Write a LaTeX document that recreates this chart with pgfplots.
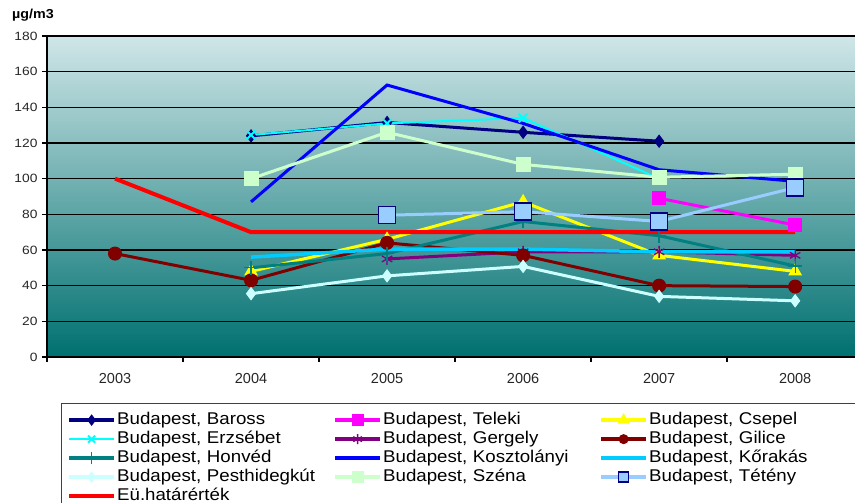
\documentclass[border=0pt]{standalone}
\usepackage{fontspec}
\setmainfont{Liberation Sans}
\newfontfamily\legfont[FakeStretch=1.1]{Liberation Sans}
\newfontfamily\yfont[FakeStretch=1.15]{Liberation Sans}
\usepackage{pgfplots}
\pgfplotsset{compat=1.18}
\definecolor{cBaross}{RGB}{0,0,128}
\definecolor{cTeleki}{RGB}{255,0,255}
\definecolor{cCsepel}{RGB}{255,255,0}
\definecolor{cErzs}{RGB}{0,255,255}
\definecolor{cGergely}{RGB}{128,0,128}
\definecolor{cGilice}{RGB}{128,0,0}
\definecolor{cHonved}{RGB}{0,128,128}
\definecolor{cKoszt}{RGB}{0,0,255}
\definecolor{cKorakas}{RGB}{0,204,255}
\definecolor{cPest}{RGB}{204,255,255}
\definecolor{cSzena}{RGB}{204,255,204}
\definecolor{cTeteny}{RGB}{153,204,255}
\definecolor{cEu}{RGB}{255,0,0}
\definecolor{bgTop}{RGB}{208,230,232}
\definecolor{bgMid}{RGB}{128,180,181}
\definecolor{bgBot}{RGB}{0,112,112}
\begin{document}
\begin{tikzpicture}
\useasboundingbox (0,0) rectangle (855bp,503bp);
\clip (0,0) rectangle (855bp,503bp);
\begin{axis}[
  at={(47bp,146bp)}, anchor=south west,
  scale only axis, width=808bp, height=321bp,
  xmin=-0.5, xmax=5.44, ymin=0, ymax=180,
  axis x line*=bottom, axis y line*=left,
  x axis line style={-, line width=1.3bp, black},
  y axis line style={-, line width=1.3bp, black},
  xtick={0,...,5}, xticklabels={2003,2004,2005,2006,2007,2008},
  minor xtick={-0.5,0.5,1.5,2.5,3.5,4.5},
  major x tick style={draw=none},
  minor x tick style={black, line width=1.3bp},
  ytick={0,20,...,180},
  major y tick style={black, line width=1.3bp},
  tick align=outside,
  major tick length=5bp, minor tick length=5bp,
  ymajorgrids, major y grid style={black, line width=1.3bp},
  /pgf/number format/assume math mode=true,
  yticklabel style={font=\yfont\fontsize{12bp}{12bp}\selectfont, color=black!85, xshift=-1bp},
  xticklabel style={font=\fontsize{14.5bp}{14.5bp}\selectfont, color=black!85, yshift=-8bp},
  axis background/.style={top color=bgTop, middle color=bgMid, bottom color=bgBot},
  ylabel={\textbf{µg/m3}},
  every axis y label/.style={at={(rel axis cs:0,1)}, anchor=center, xshift=-14bp, yshift=21bp,
     font=\legfont\fontsize{13bp}{13bp}\selectfont},
  legend columns=3,
  legend cell align=left,
  legend image code/.code={
    \draw[mark repeat=2,mark phase=2,#1] plot coordinates {(0bp,0bp) (22.5bp,0bp) (45bp,0bp)};
  },
  every legend image post/.style={line width=4bp},
  legend style={at={(axis description cs:0.0173,-0.1433)}, anchor=north west,
     draw=black!75, line width=1.3bp, inner xsep=5.5bp, inner ysep=7bp,
     row sep=0bp, column sep=0bp,
     font=\legfont\fontsize{17bp}{19bp}\selectfont,
     nodes={inner xsep=1bp, inner ysep=1bp, text width=215bp, text height=12.5bp, text depth=4.5bp}},
]
\addplot[cBaross, line width=3bp, mark=diamond*, mark size=6bp, mark options={solid, fill=cBaross, line width=1bp},
  legend image post style={mark size=5bp}]
  coordinates {(1,124) (2,131.5) (3,126) (4,121)};
\addlegendentry{Budapest, Baross}
\addplot[cTeleki, line width=3bp, mark=square*, mark size=6.5bp, mark options={solid, fill=cTeleki, line width=1bp},
  legend image post style={mark size=5.5bp}]
  coordinates {(4,89) (5,74)};
\addlegendentry{Budapest, Teleki}
\addplot[cCsepel, line width=3bp, mark=triangle*, mark size=7bp, mark options={solid, fill=cCsepel, line width=1bp},
  legend image post style={mark size=6bp}]
  coordinates {(1,48) (2,66) (3,87) (4,57) (5,48)};
\addlegendentry{Budapest, Csepel}
\addplot[cErzs, line width=2bp, mark=x, mark size=6bp, mark options={solid, line width=2bp},
  legend image post style={line width=2bp, mark size=5bp}]
  coordinates {(1,124.5) (2,131) (3,134) (4,100)};
\addlegendentry{Budapest, Erzsébet}
\addplot[cGergely, line width=3bp, mark=asterisk, mark size=6bp, mark options={solid, line width=1.3bp},
  legend image post style={mark size=5bp}]
  coordinates {(2,55) (3,59) (4,59) (5,57)};
\addlegendentry{Budapest, Gergely}
\addplot[cGilice, line width=3bp, mark=*, mark size=6.5bp, mark options={solid, fill=cGilice, line width=1bp},
  legend image post style={mark size=4.5bp}]
  coordinates {(0,58) (1,43) (2,64) (3,57) (4,40) (5,39.5)};
\addlegendentry{Budapest, Gilice}
\addplot[cHonved, line width=3bp, mark=+, mark size=7bp, mark options={solid, line width=1.3bp},
  legend image post style={mark size=6bp}]
  coordinates {(1,50) (2,58) (3,76) (4,68) (5,51)};
\addlegendentry{Budapest, Honvéd}
\addplot[cKoszt, line width=3bp]
  coordinates {(1,87) (2,152.5) (3,131) (4,105) (5,98.5)};
\addlegendentry{Budapest, Kosztolányi}
\addplot[cKorakas, line width=3.5bp]
  coordinates {(1,56) (2,60.5) (3,60.5) (4,59) (5,59)};
\addlegendentry{Budapest, Kőrakás}
\addplot[cPest, line width=3bp, mark=diamond*, mark size=6bp, mark options={solid, fill=cPest, line width=1bp},
  legend image post style={mark size=5bp}]
  coordinates {(1,35.5) (2,45.5) (3,50.8) (4,34) (5,31.5)};
\addlegendentry{Budapest, Pesthidegkút}
\addplot[cSzena, line width=3bp, mark=square*, mark size=7bp, mark options={solid, fill=cSzena, line width=1bp},
  legend image post style={mark size=5.5bp}]
  coordinates {(1,100) (2,126) (3,108) (4,100.8) (5,102.5)};
\addlegendentry{Budapest, Széna}
\addplot[cTeteny, line width=3bp, mark=square*, mark size=8.5bp, mark options={solid, fill=cTeteny, draw=cBaross, line width=1.5bp},
  legend image post style={mark size=5bp}]
  coordinates {(2,79.5) (3,81.5) (4,76) (5,95)};
\addlegendentry{Budapest, Tétény}
\addplot[cEu, line width=4bp]
  coordinates {(0,100) (1,70) (2,70) (3,70) (4,70) (5,70)};
\addlegendentry{Eü.határérték}
\end{axis}
\end{tikzpicture}
\end{document}
